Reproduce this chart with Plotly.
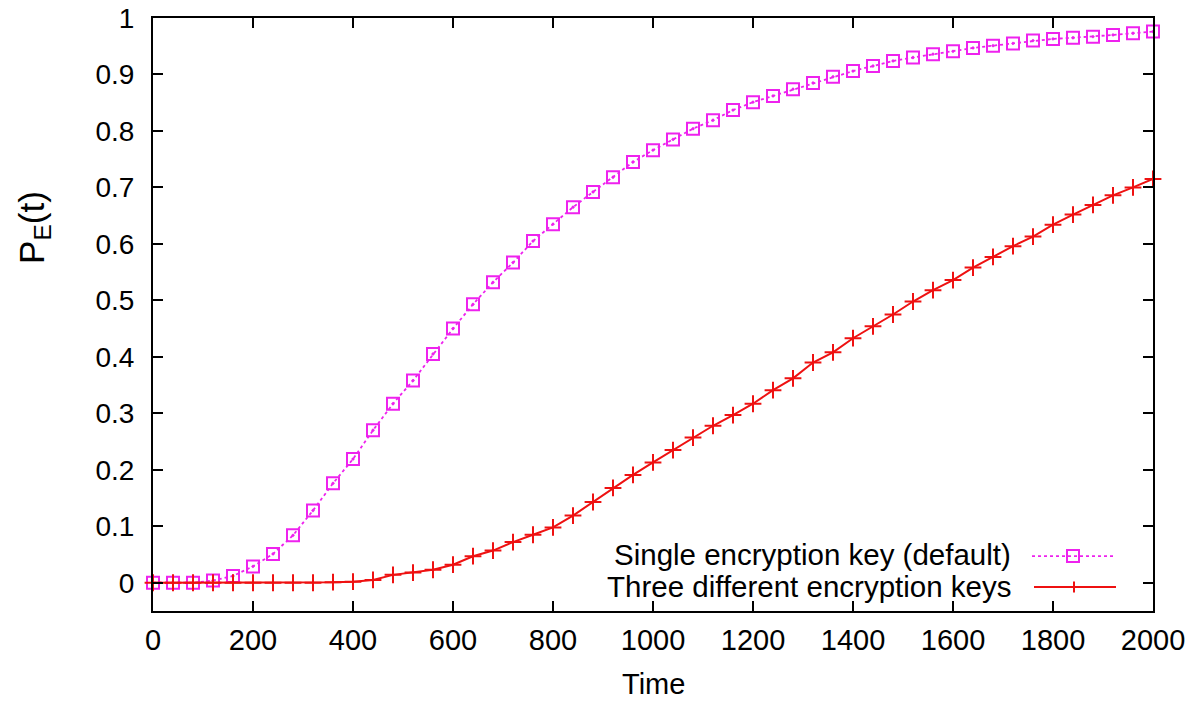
import plotly.graph_objects as go

time = list(range(0, 2001, 40))

single_key = [0.000, 0.000, 0.000, 0.004, 0.012, 0.029, 0.051, 0.084, 0.128, 0.176,
              0.219, 0.270, 0.317, 0.358, 0.405, 0.450, 0.493, 0.532, 0.567, 0.605,
              0.635, 0.665, 0.692, 0.718, 0.745, 0.766, 0.785, 0.804, 0.819, 0.837,
              0.851, 0.862, 0.874, 0.885, 0.896, 0.906, 0.915, 0.924, 0.930, 0.936,
              0.941, 0.947, 0.951, 0.955, 0.960, 0.963, 0.965, 0.967, 0.970, 0.973,
              0.976]

three_keys = [0.000, 0.000, 0.000, 0.000, 0.000, 0.000, 0.000, 0.000, 0.000, 0.001,
              0.002, 0.005, 0.014, 0.018, 0.023, 0.032, 0.047, 0.057, 0.072, 0.085,
              0.098, 0.119, 0.143, 0.168, 0.191, 0.213, 0.235, 0.257, 0.278, 0.297,
              0.317, 0.341, 0.362, 0.390, 0.408, 0.433, 0.454, 0.475, 0.498, 0.518,
              0.536, 0.558, 0.577, 0.596, 0.613, 0.634, 0.652, 0.669, 0.686, 0.700,
              0.715]

series_names = ["Single encryption key (default)", "Three different encryption keys"]
x_ticks = list(range(0, 2001, 200))
y_ticks = [round(i * 0.1, 1) for i in range(0, 11)]
y_tick_text = ["0"] + [f"{v:.1f}" for v in y_ticks[1:-1]] + ["1"]

PINK = "#ee22ee"
RED = "#ee1111"
FONT = "Liberation Sans, Arial, sans-serif"

fig = go.Figure()
fig.add_trace(go.Scatter(
    x=time, y=single_key, name=series_names[0], mode="lines+markers",
    line=dict(color=PINK, width=1.8, dash="dot"),
    marker=dict(symbol="square-open-dot", size=12, color=PINK, line=dict(color=PINK, width=2)),
    cliponaxis=False, showlegend=False))
fig.add_trace(go.Scatter(
    x=time, y=three_keys, name=series_names[1], mode="lines+markers",
    line=dict(color=RED, width=2),
    marker=dict(symbol="cross-thin", size=12, color=RED, line=dict(color=RED, width=2)),
    cliponaxis=False, showlegend=False))

axis_common = dict(showline=True, linecolor="black", linewidth=2, mirror="ticks",
                   ticks="inside", ticklen=10, tickwidth=1.5, tickcolor="black",
                   showgrid=False, zeroline=False, ticklabeloverflow="allow")

fig.update_xaxes(range=[0, 2000], tickvals=x_ticks, ticktext=[str(v) for v in x_ticks],
                 tickfont=dict(family=FONT, size=29, color="black"),
                 ticklabelstandoff=2,
                 **axis_common)
fig.update_yaxes(range=[-0.05, 1], tickvals=y_ticks, ticktext=y_tick_text,
                 tickfont=dict(family=FONT, size=28, color="black"),
                 ticklabelstandoff=11,
                 **axis_common)

# axis titles
fig.add_annotation(text="Time", xref="paper", yref="paper", x=0.5, y=-0.123,
                   xanchor="center", yanchor="middle", showarrow=False,
                   font=dict(family=FONT, size=29, color="black"))
fig.add_annotation(text="P<sub>E</sub>(t)", textangle=-90, xref="paper", yref="paper",
                   x=-0.119, y=0.646, xanchor="center", yanchor="middle", showarrow=False,
                   font=dict(family=FONT, size=35, color="black"))

# gnuplot-style legend (text right-aligned, sample to the right)
row_y = [0.0955, 0.0420]
for yy, name in zip(row_y, series_names):
    fig.add_annotation(text=name, xref="paper", yref="paper", x=0.860, y=yy,
                       xanchor="right", yanchor="middle", showarrow=False,
                       font=dict(family=FONT, size=29.5, color="black"))

# sample 1: dotted line + square
fig.add_shape(type="line", xref="paper", yref="paper", x0=0.879, x1=0.960, y0=0.0927, y1=0.0927,
              line=dict(color=PINK, width=1.8, dash="dot"))
fig.add_shape(type="rect", xref="paper", yref="paper", x0=0.914, x1=0.926,
              y0=0.0927 - 0.0101, y1=0.0927 + 0.0101, line=dict(color=PINK, width=2))
# sample 2: solid line + cross
fig.add_shape(type="line", xref="paper", yref="paper", x0=0.881, x1=0.963, y0=0.0405, y1=0.0405,
              line=dict(color=RED, width=2))
fig.add_shape(type="line", xref="paper", yref="paper", x0=0.921, x1=0.921,
              y0=0.0405 - 0.0093, y1=0.0405 + 0.0093, line=dict(color=RED, width=2))

fig.update_layout(width=1194, height=701, paper_bgcolor="white", plot_bgcolor="white",
                  margin=dict(l=153, r=41, t=18, b=90, autoexpand=False),
                  font=dict(family=FONT, color="black"))

fig.write_html("out.html", config={"displayModeBar": False},
               post_script="document.body.style.margin='0';document.body.style.overflow='hidden';")
